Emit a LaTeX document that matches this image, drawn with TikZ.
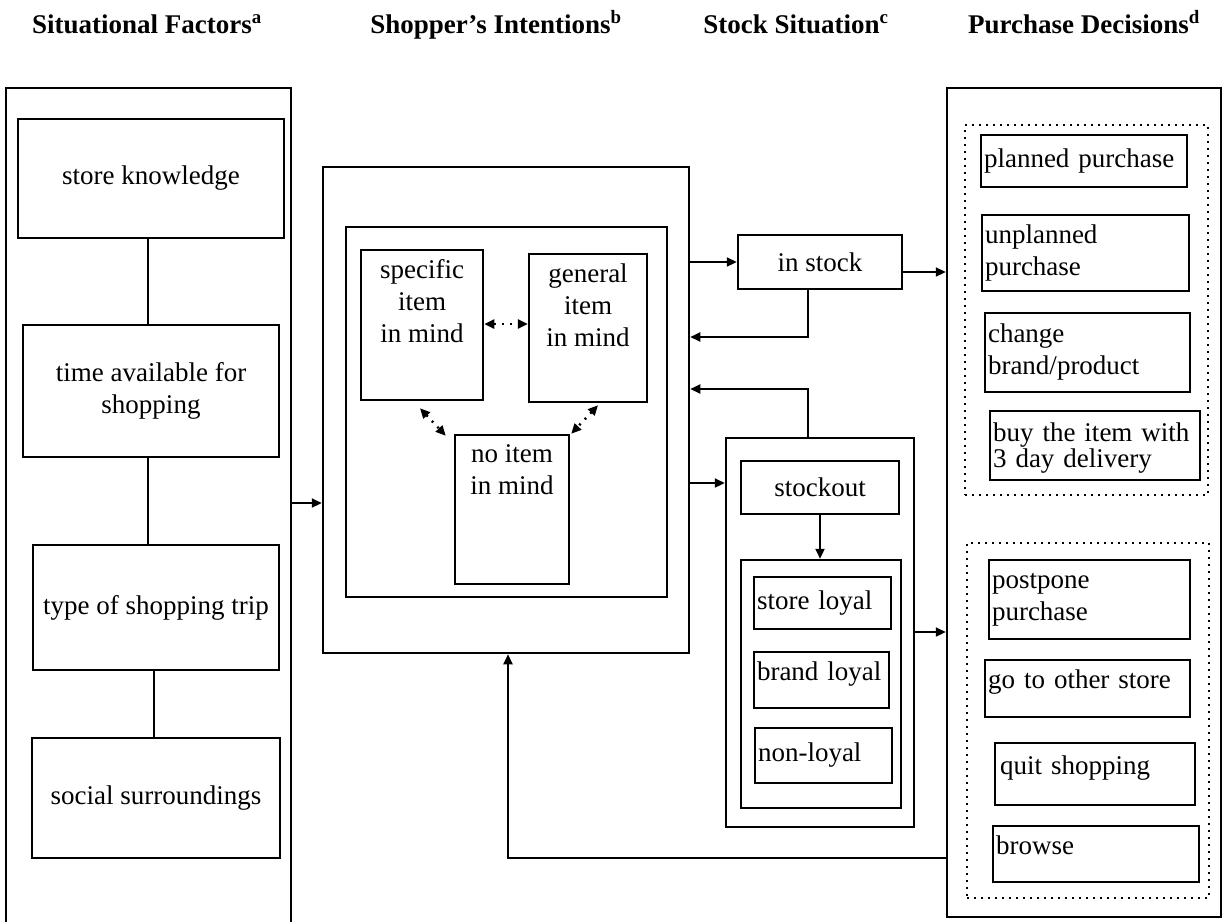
\documentclass[tikz,border=0pt]{standalone}
\usepackage{fontspec}
\setmainfont{Liberation Serif}
\usetikzlibrary{arrows.meta}

\begin{document}
\begin{tikzpicture}[x=1pt, y=-1pt,
		font=\fontsize{27}{32}\selectfont,
		box/.style={draw, line width=2.5pt, inner sep=0pt, align=center},
		leftbox/.style={draw, line width=2.5pt, inner xsep=3pt, inner ysep=0pt, align=left},
		dotbox/.style={draw, line width=2.2pt, dash pattern=on 2pt off 5pt, inner sep=0pt},
		toptext/.style={anchor=north, align=center, inner sep=0pt, yshift=-11pt},
		raised/.style={text depth=18pt},
		arr/.style={line width=2.2pt, -{Triangle[length=10pt,width=9pt]}},
		dotarr/.style={line width=2.4pt, dash pattern=on 2pt off 6pt,
			{Triangle[length=10pt,width=9pt]}-{Triangle[length=10pt,width=9pt]}},
		head/.style={anchor=base, font=\fontsize{27}{30}\selectfont\bfseries}]
		\useasboundingbox (0,0) rectangle (1225,921);

		% column heads
		\node[head] (hsit) at (147,33) {Situational Factors\textsuperscript{a}};
		\node[head] (hint) at (496,33) {Shopper's Intentions\textsuperscript{b}};
		\node[head] (hsto) at (796,33) {Stock Situation\textsuperscript{c}};
		\node[head] (hpur) at (1084,33) {Purchase Decisions\textsuperscript{d}};

		% situational factors
		\node[box, minimum width=285, minimum height=847] (sitfac) at (148.5,511.5) {};
		\node[box, minimum width=266, minimum height=119] (know) at (151,178.5) {store knowledge};
		\node[box, minimum width=256, minimum height=132] (time) at (151,391) {time available for\\shopping};
		\node[box, minimum width=246, minimum height=125] (trip) at (156,607.5) {type of shopping trip};
		\node[box, minimum width=248, minimum height=120] (social) at (156,798) {social surroundings};
		\draw[line width=2.5pt] (know.south -| 148,0) -- (time.north -| 148,0);
		\draw[line width=2.5pt] (time.south -| 148,0) -- (trip.north -| 148,0);
		\draw[line width=2.5pt] (trip.south -| 154,0) -- (social.north -| 154,0);

		% shopper's intentions
		\node[box, minimum width=366, minimum height=486] (intent) at (506,410) {};
		\node[box, minimum width=321, minimum height=370] (intentin) at (506.5,412) {};
		\node[box, minimum width=122, minimum height=150,
			label={[toptext]north:specific\\item\\in mind}] (specific) at (422,325) {};
		\node[box, minimum width=118, minimum height=148,
			label={[toptext]north:general\\item\\in mind}] (general) at (588,328) {};
		\node[box, minimum width=114, minimum height=149,
			label={[toptext]north:no item\\in mind}] (noitem) at (512,509.5) {};
		\draw[dotarr] (specific.east |- 0,324) -- (general.west |- 0,324);
		\draw[dotarr] ([shift={(-2,7)}]specific.south) -- ([shift={(-8,2)}]noitem.north west);
		\draw[dotarr] ([shift={(10,2)}]general.south) -- ([shift={(1,0)}]noitem.north east);

		% stock situation
		\node[box, minimum width=164, minimum height=54] (instock) at (820,262) {in stock};
		\node[box, minimum width=188, minimum height=389] (stockbox) at (820,632.5) {};
		\node[box, minimum width=158, minimum height=53] (stockout) at (820,487.5) {stockout};
		\node[box, minimum width=160, minimum height=248] (loyalbox) at (821,684) {};
		\node[leftbox, text width=131, minimum height=52] (storeloyal) at (822.5,603) {store loyal};
		\node[leftbox, raised, text width=129, minimum height=56] (brandloyal) at (821.5,680) {brand loyal};
		\node[leftbox, text width=131, minimum height=55] (nonloyal) at (823.5,755.5) {non-loyal};
		\draw[arr] (stockout.south) -- (stockout.south |- loyalbox.north);

		% purchase decisions
		\node[box, minimum width=274, minimum height=829] (purch) at (1084,502.5) {};
		\node[dotbox, minimum width=243, minimum height=370] (dotbuy) at (1086.5,310) {};
		\node[leftbox, text width=200, minimum height=52] (planned) at (1084,161) {planned purchase};
		\node[leftbox, text width=201, minimum height=76] (unplanned) at (1085.5,253) {unplanned\\purchase};
		\node[leftbox, text width=199, minimum height=79] (change) at (1087.5,352.5) {change\\brand/product};
		\node[leftbox, text width=204, minimum height=69, text depth=26pt,
			font=\fontsize{27}{26}\selectfont] (delivery) at (1095,445.5) {buy the item with\\3 day delivery};
		\node[dotbox, minimum width=242, minimum height=355] (dotnobuy) at (1088,720.5) {};
		\node[leftbox, text width=195, minimum height=79] (postpone) at (1089.5,599.5) {postpone\\purchase};
		\node[leftbox, raised, text width=199, minimum height=57] (otherstore) at (1087.5,688.5) {go to other store};
		\node[leftbox, raised, inner xsep=5pt, text width=190, minimum height=62] (quit) at (1095,774) {quit shopping};
		\node[leftbox, raised, text width=200, minimum height=56] (browse) at (1096,854) {browse};

		% flows
		\draw[arr] (sitfac.east |- 0,503) -- (intent.west |- 0,503);
		\draw[arr] (intent.east |- instock.west) -- (instock.west);
		\draw[arr] (instock.east |- 0,272) -- (purch.west |- 0,272);
		\draw[arr] ([xshift=-12pt]instock.south) |- (intent.east |- 0,337);
		\draw[arr] ([xshift=-12pt]stockbox.north) |- (intent.east |- 0,389);
		\draw[arr] (intent.east |- 0,483) -- (stockbox.west |- 0,483);
		\draw[arr] (stockbox.east |- 0,632) -- (purch.west |- 0,632);
		\draw[arr] (purch.west |- 0,858) -| (intent.south -| 508,0);
	\end{tikzpicture}
\end{document}
